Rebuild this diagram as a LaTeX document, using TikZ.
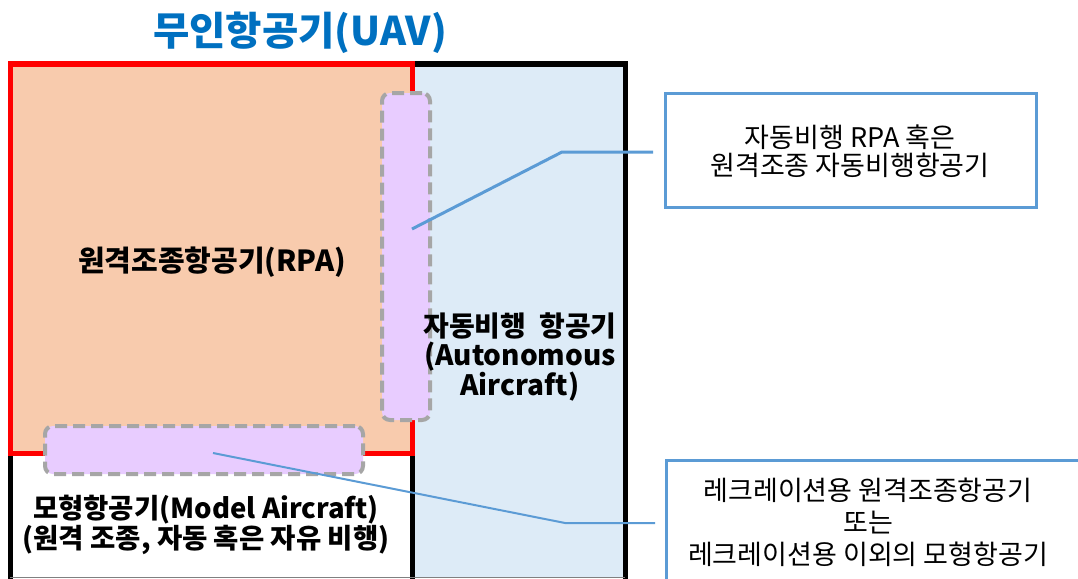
\documentclass[tikz,border=0pt]{standalone}
\usepackage{fontspec}
\setmainfont{Noto Sans CJK KR}
\definecolor{orangefill}{RGB}{248,203,173}
\definecolor{bluefill}{RGB}{221,235,247}
\definecolor{purplefill}{RGB}{232,204,255}
\definecolor{dashgray}{RGB}{166,166,166}
\definecolor{callblue}{RGB}{91,155,213}
\definecolor{titleblue}{RGB}{0,112,192}
\tikzset{
  region/.style={inner sep=0pt, outer sep=0pt, anchor=north west},
  overlap/.style={region, fill=purplefill, draw=dashgray, line width=4pt, dash pattern=on 12pt off 6pt, rounded corners=8pt},
  callbox/.style={region, draw=callblue, line width=3pt, fill=white},
  lab/.style={font=\fontsize{29}{30}\selectfont\bfseries, align=center, inner sep=0pt},
  calltext/.style={align=center, inner sep=0pt},
  conn/.style={draw=callblue, line width=3pt},
}
\begin{document}
\begin{tikzpicture}[x=1pt,y=-1pt]
\useasboundingbox (0,0) rectangle (1078,578);
% outer UAV frame
\node[region, fill=bluefill, minimum width=213pt, minimum height=514pt] (auto) at (412,64) {};
\node[region, fill=white, minimum width=402pt, minimum height=125pt] (model) at (10,453) {};
\draw[line width=5pt] (10,580) -- (10,64) -- (625,64) -- (625,580);
\draw[line width=5pt] (412,453) -- (412,580);
\draw[gray, line width=1pt] (10,577) -- (625,577);
% RPA region
\node[region, fill=orangefill, draw=red, line width=5pt, minimum width=402pt, minimum height=389pt] (rpa) at (10,64) {};
% overlap regions
\node[overlap, minimum width=48pt, minimum height=327pt] (ov1) at (382,93) {};
\node[overlap, minimum width=318pt, minimum height=48pt] (ov2) at (45,426) {};
% title
\node[font=\fontsize{39.5}{42}\selectfont\bfseries, text=titleblue, inner sep=0pt] (title) at (300,33) {무인항공기(UAV)};
% labels
\node[lab] (trpa) at (212,262) {원격조종항공기(RPA)};
\node[lab, font=\fontsize{28}{29}\selectfont\bfseries] (tauto) at (520,357) {자동비행~~항공기\\(Autonomous\\Aircraft)};
\node[lab, font=\fontsize{27.5}{30}\selectfont\bfseries] (tmodel) at (206,525) {모형항공기(Model Aircraft)\\(원격 조종, 자동 혹은 자유 비행)};
% callouts
\node[callbox, minimum width=371pt, minimum height=114pt] (cb1) at (665,93) {};
\node[calltext, font=\fontsize{27}{28}\selectfont] (ct1) at (850,151) {자동비행 RPA 혹은\\원격조종 자동비행항공기};
\node[callbox, minimum width=430pt, minimum height=120pt] (cb2) at (666,460) {};
\node[calltext, font=\fontsize{27}{32}\selectfont] (ct2) at (868,522) {레크레이션용 원격조종항공기\\또는\\레크레이션용 이외의 모형항공기};
% connectors
\coordinate (a1) at (412,229);
\coordinate (b1) at (562,152);
\coordinate (a2) at (213,453);
\coordinate (b2) at (565,523);
\draw[conn, shorten >=12pt] (a1) -- (b1) -- (b1 -| cb1.west);
\draw[conn, line width=2pt, shorten >=11pt] (a2) -- (b2) -- (b2 -| cb2.west);
\end{tikzpicture}
\end{document}
